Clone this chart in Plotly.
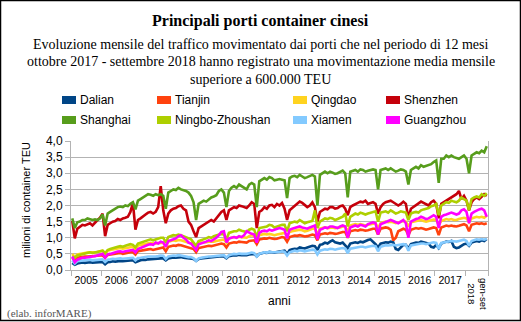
import plotly.graph_objects as go

# Monthly traffic, million TEU, Jan 2005 .. Sep 2018
dalian = [
    0.22,0.16,0.20,0.22,0.23,0.22,0.24,0.24,0.23,0.24,0.25,0.26,
    0.25,0.18,0.24,0.25,0.27,0.26,0.28,0.28,0.27,0.28,0.29,0.30,
    0.30,0.24,0.28,0.30,0.32,0.31,0.33,0.34,0.33,0.34,0.35,0.36,
    0.36,0.30,0.36,0.38,0.39,0.38,0.40,0.40,0.38,0.37,0.36,0.35,
    0.34,0.28,0.34,0.36,0.37,0.37,0.39,0.38,0.40,0.41,0.42,0.43,
    0.42,0.36,0.43,0.45,0.46,0.45,0.47,0.46,0.45,0.46,0.48,0.50,
    0.50,0.42,0.50,0.52,0.54,0.53,0.56,0.55,0.54,0.56,0.58,0.60,
    0.60,0.50,0.62,0.64,0.66,0.65,0.70,0.68,0.67,0.70,0.72,0.75,
    0.74,0.62,0.78,0.80,0.85,0.82,0.88,0.92,0.86,0.85,0.82,0.85,
    0.78,0.68,0.82,0.84,0.86,0.84,0.88,0.86,0.90,0.93,0.95,0.88,
    0.80,0.70,0.82,0.84,0.86,0.85,0.88,0.86,0.65,0.62,0.70,0.78,
    0.78,0.66,0.80,0.82,0.85,0.84,0.88,0.86,0.84,0.82,0.72,0.70,
    0.78,0.68,0.82,0.85,0.88,0.87,0.90,0.72,0.68,0.70,0.75,0.80,
    0.82,0.75,0.85,0.88,0.90,0.88,0.92,0.90,0.96,
]
tianjin = [
    0.38,0.30,0.38,0.40,0.40,0.42,0.42,0.43,0.42,0.43,0.44,0.45,
    0.45,0.38,0.47,0.48,0.50,0.50,0.52,0.53,0.50,0.52,0.54,0.55,
    0.55,0.48,0.58,0.60,0.62,0.62,0.64,0.65,0.62,0.64,0.66,0.68,
    0.70,0.58,0.72,0.74,0.76,0.75,0.78,0.77,0.75,0.73,0.70,0.68,
    0.65,0.55,0.68,0.70,0.72,0.72,0.75,0.74,0.76,0.78,0.80,0.82,
    0.80,0.70,0.82,0.85,0.86,0.85,0.88,0.87,0.86,0.85,0.90,0.92,
    0.92,0.80,0.95,0.96,0.98,0.97,1.00,0.98,0.96,0.97,1.00,1.02,
    1.00,0.88,1.02,1.05,1.07,1.06,1.08,1.06,1.04,1.05,1.08,1.10,
    1.08,0.92,1.10,1.12,1.14,1.12,1.15,1.14,1.12,1.13,1.16,1.18,
    1.18,1.00,1.20,1.22,1.24,1.22,1.25,1.24,1.22,1.23,1.26,1.28,
    1.28,1.10,1.28,1.30,1.32,1.30,1.25,0.92,1.00,1.20,1.25,1.28,
    1.25,1.08,1.25,1.28,1.30,1.28,1.30,1.28,1.25,1.27,1.30,1.32,
    1.30,1.08,1.32,1.35,1.38,1.36,1.38,1.36,1.35,1.37,1.40,1.42,
    1.38,1.20,1.40,1.42,1.45,1.43,1.45,1.42,1.45,
]
qingdao = [
    0.50,0.40,0.48,0.50,0.52,0.52,0.54,0.55,0.54,0.55,0.56,0.58,
    0.60,0.50,0.60,0.62,0.64,0.65,0.67,0.68,0.66,0.68,0.70,0.72,
    0.72,0.62,0.75,0.78,0.80,0.80,0.82,0.84,0.82,0.83,0.85,0.86,
    0.85,0.72,0.88,0.90,0.92,0.90,0.93,0.92,0.90,0.88,0.85,0.82,
    0.80,0.70,0.82,0.85,0.85,0.86,0.88,0.87,0.88,0.90,0.92,0.95,
    0.95,0.85,0.98,1.00,1.02,1.00,1.03,1.02,1.00,1.00,1.05,1.08,
    1.05,0.92,1.08,1.10,1.12,1.10,1.12,1.10,1.08,1.10,1.12,1.15,
    1.15,1.05,1.18,1.20,1.22,1.22,1.25,1.23,1.20,1.22,1.25,1.28,
    1.28,1.10,1.28,1.30,1.32,1.30,1.32,1.32,1.30,1.30,1.32,1.35,
    1.35,1.20,1.38,1.40,1.42,1.40,1.42,1.40,1.38,1.40,1.42,1.45,
    1.45,1.30,1.45,1.48,1.50,1.48,1.50,1.48,1.45,1.47,1.50,1.52,
    1.50,1.35,1.48,1.50,1.52,1.52,1.55,1.52,1.50,1.52,1.55,1.56,
    1.55,1.40,1.52,1.55,1.58,1.56,1.58,1.55,1.55,1.58,1.60,1.62,
    1.60,1.48,1.60,1.62,1.65,1.63,1.65,1.62,1.68,
]
shenzhen = [
    1.52,0.98,1.28,1.35,1.40,1.38,1.42,1.45,1.38,1.48,1.55,1.62,
    1.75,1.05,1.40,1.45,1.50,1.52,1.58,1.55,1.60,1.62,1.65,1.80,
    2.08,1.25,1.55,1.60,1.65,1.72,1.78,1.80,1.75,1.80,1.95,2.60,
    1.85,1.45,1.75,1.85,1.90,1.92,1.98,2.00,1.90,1.85,1.50,1.40,
    1.20,1.02,1.30,1.35,1.40,1.45,1.50,1.55,1.50,1.60,1.72,1.80,
    1.85,1.55,1.85,1.90,1.95,1.92,2.00,1.98,1.95,1.92,2.00,2.10,
    2.05,1.30,1.80,1.85,1.95,1.90,2.00,2.02,1.95,2.05,2.00,2.08,
    1.90,1.55,1.85,1.92,2.00,2.05,2.12,2.08,2.00,1.95,2.00,2.10,
    1.95,1.50,1.80,1.85,1.90,1.88,1.95,1.95,1.90,1.92,1.98,2.00,
    1.90,1.70,1.95,2.00,2.05,2.08,2.12,2.10,2.15,2.05,2.08,2.10,
    2.05,1.75,1.95,2.05,2.10,2.12,2.15,2.10,2.05,2.00,2.05,2.12,
    2.05,1.60,1.90,1.95,2.00,2.05,2.12,2.08,2.05,2.00,2.10,2.15,
    2.05,1.60,2.05,2.10,2.15,2.20,2.25,2.30,2.35,2.45,2.20,2.30,
    2.15,1.85,2.10,2.20,2.25,2.20,2.28,2.35,2.30,
]
shanghai = [
    1.60,1.30,1.48,1.50,1.55,1.55,1.60,1.58,1.55,1.57,1.55,1.60,
    1.72,1.38,1.75,1.80,1.85,1.90,1.95,1.97,1.95,2.00,1.98,2.05,
    2.10,1.88,2.15,2.20,2.25,2.30,2.35,2.33,2.30,2.35,2.32,2.35,
    2.30,1.90,2.40,2.45,2.50,2.48,2.55,2.50,2.48,2.45,2.40,2.30,
    2.10,1.55,2.05,2.10,2.15,2.12,2.20,2.25,2.28,2.32,2.45,2.50,
    2.40,1.95,2.45,2.55,2.60,2.55,2.65,2.60,2.55,2.50,2.65,2.70,
    2.65,1.95,2.75,2.80,2.85,2.80,2.88,2.85,2.78,2.80,2.82,2.80,
    2.78,2.23,2.85,2.90,2.92,2.88,2.95,2.90,2.85,2.88,2.92,2.95,
    2.90,2.00,2.95,3.00,3.05,3.00,3.05,3.02,2.98,3.00,3.05,3.08,
    3.00,2.25,3.05,3.08,3.10,3.05,3.12,3.10,3.05,3.08,3.10,3.12,
    3.10,2.50,3.10,3.12,3.15,3.10,3.15,3.10,3.05,3.08,3.12,3.10,
    3.05,2.65,3.10,3.15,3.20,3.15,3.25,3.20,3.22,3.25,3.28,3.35,
    3.40,2.70,3.45,3.45,3.55,3.50,3.55,3.50,3.48,3.45,3.50,3.55,
    3.45,3.00,3.55,3.60,3.65,3.62,3.70,3.65,3.84,
]
ningbo = [
    0.42,0.38,0.45,0.47,0.50,0.50,0.53,0.55,0.53,0.55,0.57,0.60,
    0.60,0.52,0.62,0.65,0.68,0.70,0.72,0.74,0.72,0.75,0.78,0.80,
    0.78,0.70,0.82,0.85,0.88,0.90,0.93,0.95,0.92,0.95,0.98,1.00,
    1.00,0.85,1.02,1.05,1.08,1.07,1.10,1.08,1.05,1.02,0.98,0.95,
    0.85,0.75,0.90,0.92,0.95,0.98,1.02,1.00,1.05,1.08,1.10,1.12,
    1.10,0.95,1.15,1.18,1.20,1.20,1.25,1.22,1.20,1.18,1.25,1.28,
    1.25,1.00,1.30,1.32,1.35,1.35,1.40,1.38,1.32,1.35,1.38,1.40,
    1.40,1.20,1.45,1.48,1.50,1.48,1.55,1.50,1.45,1.48,1.50,1.52,
    1.85,1.30,1.50,1.55,1.60,1.58,1.62,1.60,1.55,1.58,1.62,1.65,
    1.75,1.35,1.65,1.70,1.75,1.72,1.78,1.75,1.72,1.75,1.78,1.80,
    1.82,1.50,1.78,1.80,1.82,1.78,1.85,1.80,1.75,1.78,1.82,1.80,
    1.78,1.55,1.75,1.78,1.80,1.78,1.85,1.88,1.90,1.92,1.98,2.00,
    2.05,1.70,2.00,2.05,2.10,2.08,2.15,2.12,2.10,2.15,2.25,2.20,
    2.15,1.85,2.20,2.25,2.28,2.25,2.35,2.30,2.38,
]
xiamen = [
    0.30,0.20,0.27,0.28,0.30,0.30,0.31,0.32,0.30,0.31,0.32,0.33,
    0.33,0.25,0.32,0.33,0.35,0.34,0.36,0.36,0.35,0.36,0.37,0.38,
    0.38,0.30,0.37,0.38,0.40,0.40,0.42,0.42,0.41,0.42,0.43,0.45,
    0.44,0.34,0.42,0.44,0.45,0.44,0.46,0.45,0.43,0.42,0.40,0.40,
    0.36,0.28,0.36,0.38,0.40,0.40,0.42,0.42,0.43,0.45,0.46,0.47,
    0.46,0.38,0.46,0.48,0.50,0.49,0.51,0.50,0.49,0.50,0.52,0.54,
    0.52,0.42,0.50,0.52,0.55,0.54,0.56,0.55,0.54,0.55,0.56,0.58,
    0.56,0.45,0.55,0.57,0.60,0.58,0.61,0.60,0.58,0.60,0.62,0.63,
    0.62,0.48,0.60,0.62,0.64,0.63,0.66,0.65,0.63,0.65,0.67,0.68,
    0.66,0.52,0.66,0.68,0.70,0.70,0.72,0.72,0.70,0.72,0.74,0.75,
    0.74,0.58,0.72,0.74,0.77,0.76,0.78,0.78,0.76,0.77,0.79,0.80,
    0.78,0.60,0.76,0.78,0.80,0.80,0.82,0.82,0.80,0.82,0.84,0.86,
    0.84,0.65,0.84,0.86,0.88,0.88,0.90,0.89,0.88,0.90,0.92,0.94,
    0.90,0.75,0.90,0.92,0.95,0.94,0.96,0.94,0.97,
]
guangzhou = [
    0.42,0.24,0.32,0.35,0.38,0.38,0.40,0.42,0.42,0.43,0.45,0.48,
    0.50,0.38,0.48,0.50,0.53,0.55,0.57,0.58,0.56,0.58,0.60,0.62,
    0.62,0.55,0.65,0.68,0.72,0.75,0.78,0.80,0.78,0.85,0.82,0.88,
    0.85,0.72,0.90,0.92,0.95,0.98,1.05,1.08,1.00,0.95,0.85,0.82,
    0.72,0.62,0.80,0.82,0.85,0.88,0.92,0.90,0.95,1.00,1.08,1.18,
    1.20,0.85,0.98,1.00,1.02,1.00,1.05,1.02,1.08,1.20,1.15,1.12,
    1.10,0.85,1.15,1.20,1.22,1.20,1.25,1.22,1.25,1.28,1.30,1.28,
    1.25,0.98,1.25,1.28,1.30,1.32,1.35,1.32,1.30,1.28,1.32,1.35,
    1.38,0.95,1.25,1.28,1.32,1.30,1.35,1.35,1.32,1.30,1.35,1.38,
    1.35,1.00,1.32,1.35,1.38,1.35,1.40,1.38,1.35,1.42,1.45,1.48,
    1.45,1.10,1.42,1.45,1.48,1.50,1.55,1.52,1.48,1.45,1.50,1.55,
    1.45,1.00,1.50,1.55,1.58,1.60,1.65,1.62,1.58,1.60,1.65,1.70,
    1.65,1.30,1.65,1.70,1.72,1.75,1.78,1.75,1.72,1.75,1.85,1.88,
    1.80,1.45,1.75,1.80,1.85,1.88,1.90,1.85,1.65,
]

series_names = ["Dalian", "Tianjin", "Qingdao", "Shenzhen",
                "Shanghai", "Ningbo-Zhoushan", "Xiamen", "Guangzhou"]
series_values = [dalian, tianjin, qingdao, shenzhen,
                 shanghai, ningbo, xiamen, guangzhou]
series_colors = ["#004586", "#ff420e", "#ffd320", "#c5000b",
                 "#579d1c", "#aecf00", "#83caff", "#ff00ff"]
year_labels = ["2005", "2006", "2007", "2008", "2009", "2010", "2011",
               "2012", "2013", "2014", "2015", "2016", "2017"]
last_label = "gen-set<br>2018"
months_per_year = 12

n = len(shanghai)
months = list(range(n))

W, H = 521, 322
L, R, T, B = 71, 488, 141, 270


def px(x):
    return (x - L) / (R - L)


def py(y):
    return (B - y) / (B - T)


fig = go.Figure()
for name, vals, col in zip(series_names, series_values, series_colors):
    fig.add_trace(go.Scatter(x=months, y=vals, mode="lines", name=name,
                             line=dict(color=col, width=2.6),
                             showlegend=False))

grid = "#b3b3b3"
boundaries = [i * months_per_year - 0.5 for i in range(len(year_labels) + 1)] + [n - 0.5]
centers = [i * months_per_year + 5.5 for i in range(len(year_labels))]

fig.update_xaxes(range=[-0.5, n - 0.5], showgrid=False, zeroline=False,
                 showline=True, linecolor=grid, linewidth=1,
                 tickmode="array", tickvals=centers, ticktext=year_labels,
                 ticks="", tickfont=dict(family="Liberation Sans", size=10.5, color="black"),
                 minor=dict(tickmode="array", tickvals=boundaries, ticks="outside",
                            ticklen=5, tickcolor=grid, tickwidth=1, showgrid=False))
fig.update_yaxes(range=[0, 4], dtick=0.5, tickformat=".1f", showgrid=True,
                 gridcolor=grid, gridwidth=1, zeroline=False,
                 showline=True, linecolor=grid, linewidth=1, mirror=True,
                 ticks="outside", ticklen=5, tickcolor=grid,
                 tickfont=dict(family="Liberation Sans", size=12, color="black"))

shapes = [dict(type="rect", xref="paper", yref="paper",
               x0=px(0.5), x1=px(520.5), y0=py(320.5), y1=py(0.5),
               line=dict(color="black", width=1.5), fillcolor="rgba(0,0,0,0)")]
ann = []
serif = "Liberation Serif"
sans = "Liberation Sans"
ann.append(dict(text="<b>Principali porti container cinesi</b>", x=px(260.5), y=py(21),
                font=dict(family=serif, size=16, color="black")))
sub = ["Evoluzione mensile del traffico movimentato dai porti che nel periodo di 12 mesi",
       "ottobre 2017 - settembre 2018 hanno registrato una movimentazione media mensile",
       "superiore a 600.000 TEU"]
for i, s in enumerate(sub):
    ann.append(dict(text=s, x=px(260.5), y=py(44 + 17.5 * i),
                    font=dict(family=serif, size=14, color="black")))

# legend (manual, square keys)
col_x = [62, 157, 293, 386]
row_y = [100, 120]
for i, (name, col) in enumerate(zip(series_names, series_colors)):
    r, c = divmod(i, 4)
    x0 = col_x[c]
    yc = row_y[r]
    shapes.append(dict(type="rect", xref="paper", yref="paper",
                       x0=px(x0), x1=px(x0 + 14), y0=py(yc + 4), y1=py(yc - 4),
                       line=dict(width=0), fillcolor=col))
    ann.append(dict(text=name, x=px(x0 + 16), y=py(yc), xanchor="left",
                    font=dict(family=sans, size=12, color="black")))

ann.append(dict(text="milioni di container TEU", x=px(26), y=py(200), textangle=-90,
                font=dict(family=sans, size=11, color="black")))
ann.append(dict(text="anni", x=px(279.5), y=py(301),
                font=dict(family=sans, size=12, color="black")))
ann.append(dict(text=last_label, x=px(478), y=py(294), textangle=90,
                font=dict(family=sans, size=9.5, color="black")))
ann.append(dict(text="(elab. inforMARE)", x=px(5), y=py(313), xanchor="left",
                font=dict(family=serif, size=11, color="#555555")))
for a in ann:
    a.setdefault("xref", "paper")
    a.setdefault("yref", "paper")
    a.setdefault("showarrow", False)
    a.setdefault("xanchor", "center")
    a.setdefault("yanchor", "middle")

fig.update_layout(width=W, height=H, margin=dict(l=L, r=W - R, t=T, b=H - B),
                  paper_bgcolor="white", plot_bgcolor="white",
                  separators=",.", showlegend=False,
                  shapes=shapes, annotations=ann)
fig.write_html("out.html")
